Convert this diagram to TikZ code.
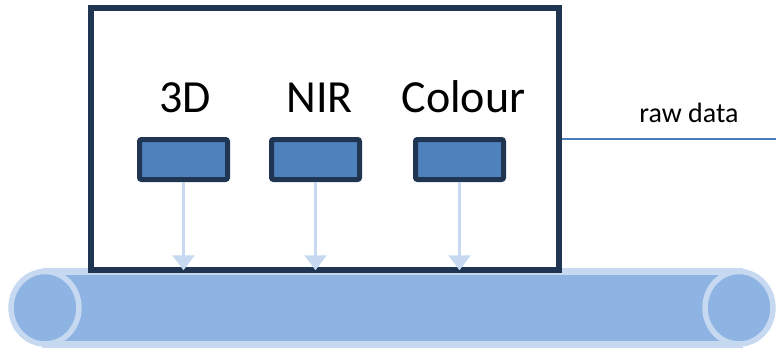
\documentclass[tikz,border=0pt]{standalone}
\usepackage{fontspec}
\setmainfont{Carlito}
\usetikzlibrary{arrows.meta}
\definecolor{navy}{RGB}{31,53,82}
\definecolor{sensorblue}{RGB}{79,129,189}
\definecolor{beltblue}{RGB}{142,180,227}
\definecolor{paleblue}{RGB}{198,217,241}
\definecolor{lineblue}{RGB}{74,126,187}
\begin{document}
\begin{tikzpicture}[x=1pt, y=1pt,
  frame/.style = {draw=navy, line width=5.5pt, fill=white, minimum width=468pt, minimum height=262pt},
  sensor/.style = {draw=navy, line width=5pt, fill=sensorblue, rounded corners=2pt, minimum width=88pt, minimum height=40pt},
  label/.style = {anchor=base, font=\fontsize{46}{50}\selectfont, inner sep=0pt},
  beam/.style = {draw=paleblue, line width=2.5pt, -{Triangle[width=22pt,length=15pt]}, shorten >=2.5pt}]
  \useasboundingbox (0,0) rectangle (776,349);

  % conveyor belt
  \draw[paleblue, line width=7pt, fill=beltblue] (45,77.5) rectangle (739,5);
  \draw[paleblue, line width=5.5pt, fill=beltblue] (45,41.25) ellipse [x radius=34, y radius=36.25];
  \draw[paleblue, line width=5.5pt, fill=beltblue] (739,41.25) ellipse [x radius=34, y radius=36.25];

  % camera housing
  \node[frame] (box) at (325,210) {};
  \node[sensor] (s1) at (183.5,189.5) {};
  \node[sensor] (s2) at (315.5,189.5) {};
  \node[sensor] (s3) at (459.5,189.5) {};
  \node[label] (l1) at (185,237) {3D};
  \node[label] (l2) at (319.5,237) {NIR};
  \node[label] (l3) at (463.5,237) {Colour};

  \draw[beam] (s1.south) -- (s1.south |- box.south);
  \draw[beam] (s2.south) -- (s2.south |- box.south);
  \draw[beam] (s3.south) -- (s3.south |- box.south);

  % output
  \coordinate (out) at (776,210);
  \node[anchor=base, font=\fontsize{28}{32}\selectfont, inner sep=0pt] (data) at (689,227) {raw data};
  \draw[lineblue, line width=2pt] (box.east |- out) -- (out);
\end{tikzpicture}
\end{document}
